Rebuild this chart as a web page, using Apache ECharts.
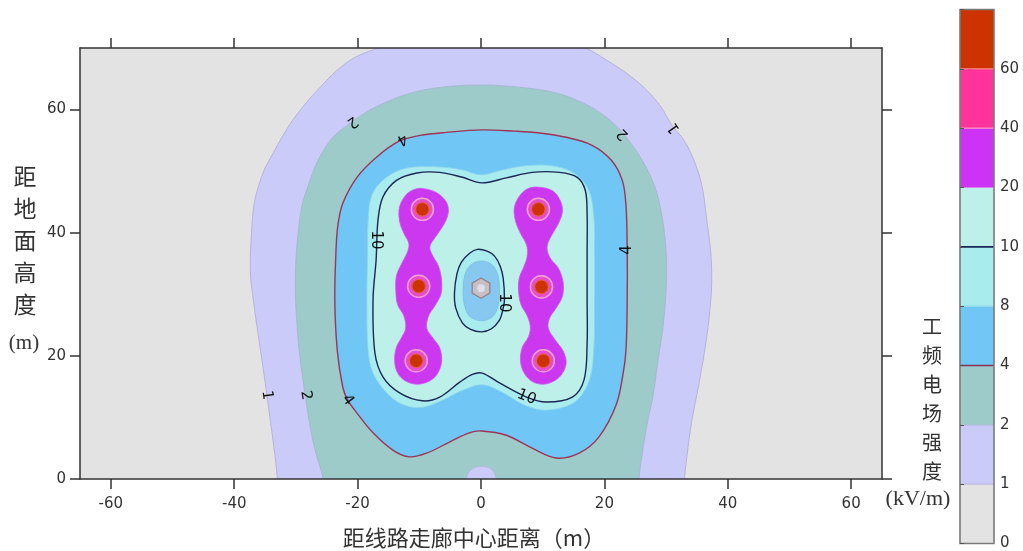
<!DOCTYPE html>
<html><head><meta charset="utf-8">
<script src="https://cdn.jsdelivr.net/npm/echarts@6/dist/echarts.min.js"></script>
<style>html,body{margin:0;padding:0;background:#fff}#c{width:1023px;height:551px}</style>
</head><body><div id="c"></div>
<script>
// ---------- data (metres) ----------
const xTicks = [-60, -40, -20, 0, 20, 40, 60];
const yTicks = [0, 20, 40, 60];
const levelLabels = ['0', '1', '2', '4', '8', '10', '20', '40', '60'];

const contour1 = [[-33.0,-3],[-33.0,0],[-33.4,3.9],[-34.0,8.4],[-34.7,13.6],[-35.5,19.3],[-36.3,24.7],[-36.9,29.1],[-37.4,33.9],[-37.2,39.9],[-36.8,44.5],[-36.1,47.4],[-35.0,50.5],[-33.7,52.9],[-32.1,55.8],[-30.5,58.3],[-28.5,60.9],[-26.1,63.6],[-23.3,66.4],[-20.4,68.5],[-16.7,70.0],[-12,72],[0,73.5],[12,72],[17.0,70.0],[20.4,68.0],[24.0,65.6],[26.9,63.1],[29.2,60.4],[30.9,57.5],[32.9,55.0],[34.5,51.8],[35.8,47.7],[36.6,42.0],[37.2,37.2],[37.4,32.3],[37.1,27.4],[36.4,21.8],[35.3,15.3],[34.2,9.6],[33.5,4.7],[33.0,0],[33.0,-3]];
const contour2 = [[-25.6,-3],[-25.6,0],[-26.9,4.7],[-27.9,9.6],[-28.5,13.6],[-29.3,19.3],[-29.8,24.7],[-30.1,30.7],[-30.0,35.6],[-29.6,40.4],[-29.0,44.5],[-28.0,47.7],[-26.4,51.8],[-24.0,55.5],[-20.9,58.0],[-17.5,60.2],[-12.0,62.5],[-6.7,63.6],[0.1,64.0],[6.5,63.6],[12.2,62.7],[17.5,60.6],[21.0,58.2],[23.3,55.8],[26.0,52.0],[28.2,47.4],[29.3,42.9],[30.0,37.2],[30.0,30.7],[29.5,24.7],[28.7,19.3],[27.9,13.6],[26.9,8.8],[26.1,3.9],[25.6,0],[25.6,-3]];
const contour2Hole = [[-2.4,-1],[-2.2,0.6],[-1.6,1.5],[-0.8,1.95],[0.1,2.05],[1.0,1.95],[1.8,1.5],[2.3,0.6],[2.5,-1]];
const contour4 = [[0.1,7.8],[-1.9,7.5],[-5.1,6.0],[-8.8,4.2],[-11.6,3.6],[-14.3,4.7],[-17.5,7.5],[-20.1,10.7],[-21.6,12.8],[-22.4,14.9],[-23.3,20.9],[-23.7,29.1],[-23.5,37.2],[-23.2,41.2],[-22.4,44.8],[-20.1,49.0],[-16.9,52.3],[-13.2,54.9],[-9.9,55.8],[-5.6,56.3],[0.1,56.7],[5.4,56.5],[9.5,56.2],[13.8,55.5],[18.0,54.2],[21.1,51.8],[22.9,48.5],[23.5,44.5],[23.7,37.2],[23.7,29.1],[23.5,20.9],[23.0,16.9],[21.9,12.0],[19.1,6.8],[15.9,4.2],[12.2,3.4],[8.3,5.0],[4.1,7.1]];
const contour8 = [[-18.3,42.0],[-17.6,46.3],[-15.3,49.0],[-12.0,50.5],[-7.2,50.7],[-3.0,50.2],[0.0,49.4],[3.5,50.2],[7.5,50.9],[12.0,50.8],[15.3,49.5],[17.5,46.8],[18.3,42.5],[18.4,36.7],[18.4,29.1],[18.3,21.5],[17.6,16.2],[15.3,12.6],[10.9,11.2],[7.3,11.9],[3.2,14.2],[0.2,15.3],[-3.0,14.4],[-6.7,12.6],[-9.9,11.6],[-12.9,12.2],[-15.3,14.0],[-17.5,17.2],[-18.3,20.9],[-18.5,29.1],[-18.4,35.6]];
const contour10 = [[-16.7,42.0],[-15.9,45.8],[-13.7,48.5],[-10.4,49.7],[-6.7,49.8],[-3.0,49.0],[0.1,48.1],[4.1,48.9],[8.3,49.8],[12.7,49.8],[15.6,49.0],[16.9,46.9],[17.2,42.9],[17.2,36.7],[17.2,29.1],[17.2,22.1],[16.7,16.1],[14.8,13.3],[10.6,12.5],[7.4,13.3],[3.0,15.6],[0.2,17.2],[-1.4,17.0],[-3.5,15.7],[-6.7,13.3],[-9.5,12.7],[-13.2,14.0],[-15.9,16.6],[-17.2,20.5],[-17.5,29.1],[-17.0,35.6]];
const centerContour10 = [[-4.3,30.2],[-3.9,33.3],[-3.2,35.2],[-1.8,36.7],[-0.6,37.3],[1.0,37.0],[2.2,36.2],[3.1,34.6],[3.6,32.6],[3.8,29.1],[3.5,27.3],[3.0,25.8],[1.7,24.4],[0.1,23.9],[-1.7,24.3],[-3.0,25.3],[-4.1,27.8]];
const centerContour8 = [[0.1,35.4],[1.8,34.8],[2.7,33.2],[3.0,30.5],[2.7,27.9],[1.8,26.3],[0.1,25.7],[-1.7,26.3],[-2.6,27.9],[-2.9,30.5],[-2.6,33.2],[-1.6,34.8]];
const contour20Left = [[-9.7,47.2],[-7.4,46.6],[-5.7,45.1],[-5.3,43.3],[-6.1,41.2],[-7.4,39.3],[-8.3,37.7],[-7.8,36.2],[-6.9,34.6],[-6.4,32.3],[-6.5,30.0],[-7.5,28.1],[-8.5,26.5],[-8.8,24.5],[-7.8,22.9],[-6.7,21.3],[-6.4,19.0],[-7.2,16.9],[-8.6,15.8],[-10.4,15.4],[-12.2,15.9],[-13.5,17.2],[-14.0,19.2],[-13.7,21.4],[-12.8,23.1],[-12.2,24.5],[-12.5,26.5],[-13.5,28.3],[-13.8,30.5],[-13.7,33.0],[-12.8,35.1],[-11.9,36.9],[-11.7,38.3],[-12.5,39.9],[-13.2,41.9],[-13.2,44.2],[-12.2,46.1],[-11.1,46.9]];
const contour20Right = [[9.3,47.4],[11.6,46.8],[12.8,45.3],[13.2,43.5],[12.5,41.4],[11.4,39.5],[10.7,37.7],[11.2,35.9],[12.5,34.3],[13.3,32.0],[13.2,29.7],[12.2,27.8],[11.1,26.1],[10.9,24.5],[12.0,22.6],[13.3,20.8],[13.8,18.8],[13.0,16.9],[11.6,15.8],[9.9,15.4],[8.2,15.9],[6.9,17.4],[6.4,19.3],[6.7,21.4],[7.7,23.1],[8.0,24.7],[7.5,26.5],[6.5,28.3],[6.1,30.4],[6.2,32.6],[7.0,34.6],[7.5,36.2],[7.4,38.0],[6.4,39.9],[5.6,41.9],[5.4,44.0],[6.2,45.9],[7.5,47.1]];
const phaseConductors = [[-9.5,43.8],[-10.1,31.3],[-10.5,19.2],[9.3,43.8],[9.8,31.2],[10.1,19.2]];
const groundWire = [[0.0,31.0]];
const radius40 = 1.8, radius60 = 1.1, groundRadius = 1.65;
const contourLabelPoints = [[-34.7,13.6],[-28.4,13.6],[-21.6,12.8],[-17.1,38.8],[-12.8,55.2],[-20.9,58.0],[23.0,56.0],[31.3,57.0],[23.7,37.2],[7.4,13.3],[3.7,28.6]];
const contourLabelTexts = ['1','2','4','10','4','2','2','1','4','10','10'];
const contourLabelAngles = [-83,-81,-55,-90,209,216,135,125,90,-22,-90];

// ---------- styling ----------
const levelColors = ['#e3e3e3','#cbcbfa','#9ccbca','#70c6f5','#a8ecee','#bcf0e8','#cc33f5','#ff3399','#cc3300'];
const boundaryColors = [null,'#bcbcd8','#a8b8d0','#8a3052','#90d8ec','#1b2656','#d488ec','#ff8cc8','#ff8080'];
const AX = '#333';
let zc = 0;
function poly(points, fill, stroke, lw) {
  const order = ++zc;
  return {
    type: 'custom', coordinateSystem: 'cartesian2d', xAxisIndex: 0, yAxisIndex: 0,
    clip: true, silent: true, z: 2, data: points,
    renderItem: (params, api) => {
      if (params.dataIndex !== 0) return null;
      const pts = points.map(p => api.coord(p));
      return { type: 'polygon', z2: order * 10, shape: { points: pts, smooth: 0.35 },
        style: { fill: fill, stroke: stroke, lineWidth: lw } };
    }
  };
}
function axisCommon(extra) {
  return Object.assign({
    axisLine: { show: true, onZero: false, lineStyle: { color: AX, width: 1.5 } },
    splitLine: { show: false }, z: 20
  }, extra);
}
const labelFont = { fontSize: 15, color: AX, fontFamily: 'DejaVu Sans' };

const series = [
  poly(contour1, levelColors[1], '#b4b4dc', 1),
  poly(contour2, levelColors[2], '#a4b4cc', 0.8),
  poly(contour2Hole, levelColors[1], '#b4b4dc', 0.8),
  poly(contour4, levelColors[3], '#9e3456', 1.4),
  poly(contour8, levelColors[4], '#8fd6ea', 0.8),
  poly(contour10, levelColors[5], '#1b2656', 1.4),
  poly(centerContour10, levelColors[4], '#1b2656', 1.4),
  poly(centerContour8, '#86c8f0', '#7abde6', 0.8),
  poly(contour20Left, '#cc38f0', '#d050f0', 0.8),
  poly(contour20Right, '#cc38f0', '#d050f0', 0.8),
  {
    type: 'custom', coordinateSystem: 'cartesian2d', xAxisIndex: 0, yAxisIndex: 0, clip: true, silent: true,
    data: groundWire,
    renderItem: (params, api) => {
      const c = api.coord([api.value(0), api.value(1)]);
      const s = api.size([groundRadius, groundRadius]);
      const r = (s[0] + s[1]) / 2;
      const pts = [];
      for (let k = 0; k < 6; k++) { const a = Math.PI / 6 + k * Math.PI / 3; pts.push([c[0] + r * Math.cos(a), c[1] + r * Math.sin(a)]); }
      return { type: 'group', children: [
        { type: 'polygon', z2: 500, shape: { points: pts }, style: { fill: '#c6bfc6', stroke: '#988488', lineWidth: 1.4 } },
        { type: 'circle', z2: 501, shape: { cx: c[0], cy: c[1], r: r * 0.38 }, style: { fill: '#dedee8' } }
      ] };
    }
  },
  {
    type: 'custom', coordinateSystem: 'cartesian2d', xAxisIndex: 0, yAxisIndex: 0, clip: true, silent: true,
    data: phaseConductors,
    renderItem: (params, api) => {
      const c = api.coord([api.value(0), api.value(1)]);
      const a = api.size([radius40, radius40]), b = api.size([radius60, radius60]);
      return { type: 'group', children: [
        { type: 'circle', z2: 510, shape: { cx: c[0], cy: c[1], r: (a[0] + a[1]) / 2 }, style: { fill: '#e84cc8', stroke: '#ffa6d8', lineWidth: 1.4 } },
        { type: 'circle', z2: 511, shape: { cx: c[0], cy: c[1], r: (b[0] + b[1]) / 2 }, style: { fill: '#cc3300', stroke: '#e2643c', lineWidth: 1 } }
      ] };
    }
  },
  {
    type: 'custom', coordinateSystem: 'cartesian2d', xAxisIndex: 0, yAxisIndex: 0, clip: true, silent: true,
    data: contourLabelPoints,
    renderItem: (params, api) => {
      const c = api.coord([api.value(0), api.value(1)]);
      const i = params.dataIndex;
      return { type: 'text', z2: 600, x: c[0], y: c[1], rotation: contourLabelAngles[i] * Math.PI / 180,
        style: { text: contourLabelTexts[i], fill: '#111', font: '15px "DejaVu Sans"', align: 'center', verticalAlign: 'middle',
          textAlign: 'center', textVerticalAlign: 'middle' } };
    }
  },
  {
    type: 'custom', coordinateSystem: 'cartesian2d', xAxisIndex: 2, yAxisIndex: 2, silent: true,
    data: levelLabels.map((t, i) => [0, i]),
    renderItem: (params, api) => {
      const i = api.value(1);
      const p0 = api.coord([0, i + 1]), p1 = api.coord([1, i]);
      const ch = [{ type: 'rect', z2: 10, shape: { x: p0[0], y: p0[1], width: p1[0] - p0[0], height: p1[1] - p0[1] }, style: { fill: levelColors[i] } }];
      if (i > 0) ch.push({ type: 'line', z2: 20, shape: { x1: p0[0], y1: p1[1], x2: p1[0], y2: p1[1] },
        style: { stroke: boundaryColors[i], lineWidth: (i === 3 || i === 5) ? 1.6 : 1.2 } });
      return { type: 'group', children: ch };
    }
  },
  {
    type: 'custom', coordinateSystem: 'cartesian2d', xAxisIndex: 2, yAxisIndex: 2, silent: true,
    data: [[0, 0]],
    renderItem: (params, api) => {
      const p0 = api.coord([0, levelLabels.length]), p1 = api.coord([1, 0]);
      return { type: 'rect', z2: 50, shape: { x: p0[0], y: p0[1], width: p1[0] - p0[0], height: p1[1] - p0[1] },
        style: { fill: 'none', stroke: '#7a7a7a', lineWidth: 1.6 } };
    }
  }
];

const chart = echarts.init(document.getElementById('c'));
chart.setOption({
  animation: false,
  backgroundColor: '#fff',
  grid: [
    { left: 80, right: 141, top: 48, bottom: 72, show: true, backgroundColor: levelColors[0], borderWidth: 0 },
    { left: 960, width: 34, top: 9.5, bottom: 7 }
  ],
  xAxis: [
    axisCommon({ gridIndex: 0, type: 'value', position: 'bottom', min: -65, max: 65,
      axisTick: { show: true, length: 10, customValues: xTicks, lineStyle: { color: AX, width: 1.5 } },
      axisLabel: Object.assign({ margin: 18, customValues: xTicks }, labelFont) }),
    axisCommon({ gridIndex: 0, type: 'value', position: 'top', min: -65, max: 65,
      axisTick: { show: true, length: 10, customValues: xTicks, lineStyle: { color: AX, width: 1.5 } },
      axisLabel: { show: false } }),
    { gridIndex: 1, type: 'value', min: 0, max: 1, show: false }
  ],
  yAxis: [
    axisCommon({ gridIndex: 0, type: 'value', position: 'left', min: 0, max: 70,
      axisTick: { show: true, length: 10, customValues: yTicks, lineStyle: { color: AX, width: 1.5 } },
      axisLabel: Object.assign({ margin: 14, customValues: yTicks }, labelFont) }),
    axisCommon({ gridIndex: 0, type: 'value', position: 'right', min: 0, max: 70,
      axisTick: { show: true, length: 10, customValues: yTicks, lineStyle: { color: AX, width: 1.5 } },
      axisLabel: { show: false } }),
    { gridIndex: 1, type: 'value', position: 'right', min: 0, max: 9, interval: 1, z: 20,
      axisLine: { show: false }, splitLine: { show: false },
      axisTick: { show: true, length: 4, lineStyle: { color: '#555', width: 1 } },
      axisLabel: Object.assign({ margin: 6, formatter: v => levelLabels[v] || '' }, labelFont) }
  ],
  graphic: [
    { type: 'text', silent: true, style: { text: '距\n地\n面\n高\n度', x: 25, y: 160, font: '23px "Noto Sans CJK SC"', lineHeight: 32,
      fill: AX, textAlign: 'center', textVerticalAlign: 'top', align: 'center', verticalAlign: 'top' } },
    { type: 'text', silent: true, style: { text: '(m)', x: 24, y: 343, font: '21px "Liberation Serif"',
      fill: AX, textAlign: 'center', textVerticalAlign: 'middle', align: 'center', verticalAlign: 'middle' } },
    { type: 'text', silent: true, style: { text: '距线路走廊中心距离（m）', x: 474, y: 538, font: '22px "Noto Sans CJK SC"',
      fill: AX, textAlign: 'center', textVerticalAlign: 'middle', align: 'center', verticalAlign: 'middle' } },
    { type: 'text', silent: true, style: { text: '工\n频\n电\n场\n强\n度', x: 932, y: 312, font: '20px "Noto Sans CJK SC"', lineHeight: 29,
      fill: AX, textAlign: 'center', textVerticalAlign: 'top', align: 'center', verticalAlign: 'top' } },
    { type: 'text', silent: true, style: { text: '(kV/m)', x: 918, y: 499, font: '22px "Liberation Serif"',
      fill: AX, textAlign: 'center', textVerticalAlign: 'middle', align: 'center', verticalAlign: 'middle' } }
  ],
  series: series
});
</script>
</body></html>
